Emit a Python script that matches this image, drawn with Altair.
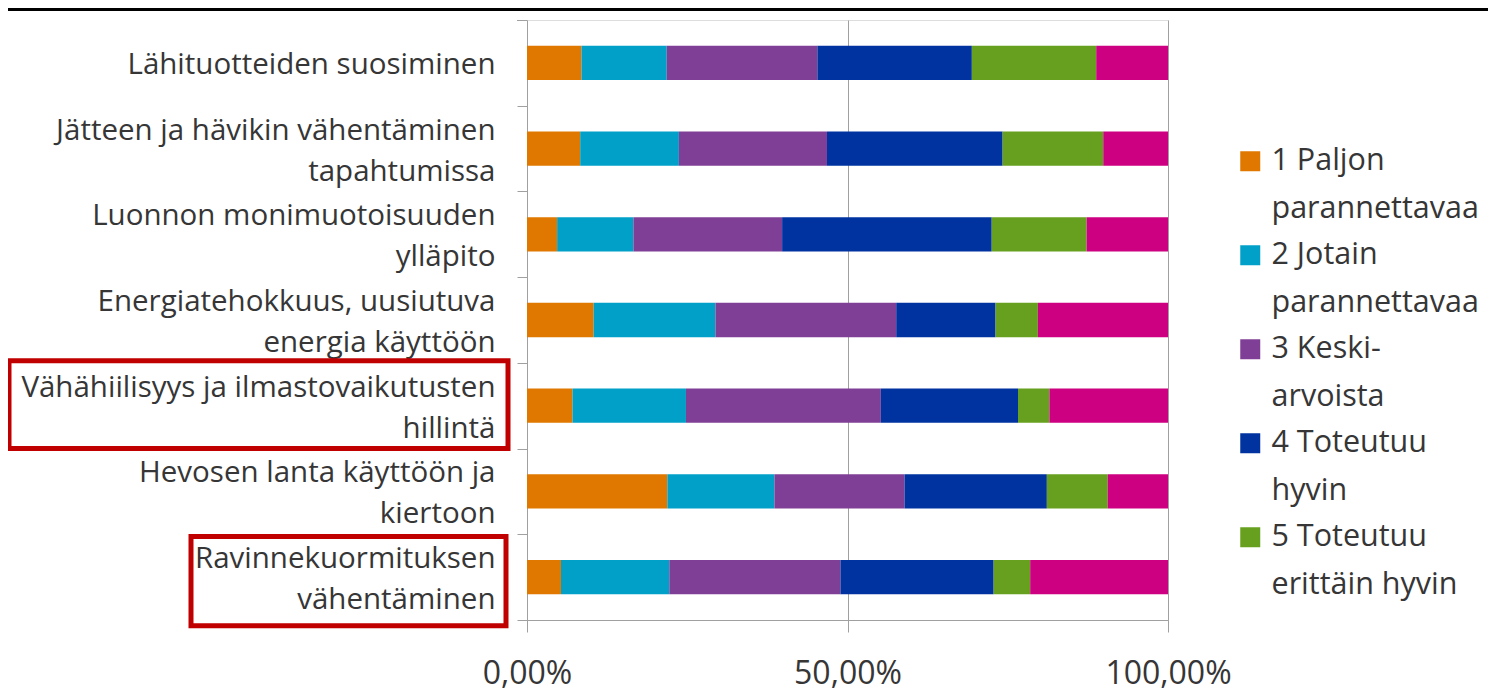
import altair as alt
import pandas as pd

categories = [
    "Lähituotteiden suosiminen",
    "Jätteen ja hävikin vähentäminen\ntapahtumissa",
    "Luonnon monimuotoisuuden\nylläpito",
    "Energiatehokkuus, uusiutuva\nenergia käyttöön",
    "Vähähiilisyys ja ilmastovaikutusten\nhillintä",
    "Hevosen lanta käyttöön ja\nkiertoon",
    "Ravinnekuormituksen\nvähentäminen",
]

series = [
    "1 Paljon\nparannettavaa",
    "2 Jotain\nparannettavaa",
    "3 Keski-\narvoista",
    "4 Toteutuu\nhyvin",
    "5 Toteutuu\nerittäin hyvin",
    "6 En osaa sanoa",
]

colors = ["#E07800", "#00A0C8", "#803F96", "#0033A0", "#66A01E", "#CC0080"]

s1 = [8.5, 8.3, 4.7, 10.4, 7.1, 21.9, 5.3]
s2 = [13.3, 15.4, 11.9, 19.0, 17.7, 16.7, 16.9]
s3 = [23.5, 23.1, 23.2, 28.2, 30.4, 20.3, 26.7]
s4 = [24.1, 27.4, 32.7, 15.5, 21.4, 22.2, 23.9]
s5 = [19.4, 15.7, 14.8, 6.6, 4.9, 9.5, 5.7]
s6 = [11.2, 10.1, 12.7, 20.3, 18.5, 9.4, 21.5]

x_ticks = [0, 0.5, 1]
highlighted_a = [categories[4]]
highlighted_b = [categories[6]]

rows = []
for si, vals in enumerate([s1, s2, s3, s4, s5, s6]):
    for ci, v in enumerate(vals):
        rows.append({"cat": categories[ci], "series": series[si], "idx": si, "value": v})
df = pd.DataFrame(rows)

FONT = "Open Sans"
TEXT = "#363636"
GRID = "#A0A0A0"
W, H = 641, 600
half_step = H / len(categories) / 2
LINE_H = 41

y_enc = alt.Y(
    "cat:N",
    sort=categories,
    scale=alt.Scale(paddingInner=0.6, paddingOuter=0.3),
    axis=alt.Axis(
        title=None,
        labelExpr="split(datum.label, '\\n')",
        labelFontSize=29.5,
        labelLineHeight=LINE_H,
        labelColor=TEXT,
        labelFont=FONT,
        labelPadding=22,
        labelLimit=600,
        tickOffset=half_step,
        labelOffset={
            "condition": {
                "test": "indexof(datum.value, '\\n') >= 0",
                "value": -half_step - LINE_H / 2 + 2,
            },
            "value": -half_step + 2,
        },
        tickSize=10,
        tickColor=GRID,
        domainColor=GRID,
        grid=False,
        labelAlign="right",
    ),
)

bars = alt.Chart(df).mark_bar().encode(
    y=y_enc,
    x=alt.X(
        "value:Q",
        stack="normalize",
        scale=alt.Scale(domain=[0, 1]),
        axis=alt.Axis(
            title=None,
            values=x_ticks,
            labelExpr="replace(format(datum.value, '.2%'), '.', ',')",
            labelFontSize=32,
            labelColor=TEXT,
            labelFont=FONT,
            labelPadding=26,
            tickSize=12,
            tickColor=GRID,
            domainColor=GRID,
            grid=True,
            gridColor=GRID,
            gridWidth=1,
            labelFlush=False,
        ),
    ),
    color=alt.Color(
        "series:N",
        scale=alt.Scale(domain=series, range=colors),
        legend=alt.Legend(
            title=None,
            values=series[:5],
            orient="none",
            legendX=708,
            legendY=126,
            labelExpr="split(datum.label, '\\n')",
            labelFontSize=30.5,
            labelFont=FONT,
            labelColor=TEXT,
            labelLimit=400,
            symbolType="square",
            symbolSize=400,
            symbolStrokeWidth=0,
            symbolOpacity=1,
            labelOffset=6,
            rowPadding=15,
            padding=0,
        ),
    ),
    order=alt.Order("idx:Q"),
)

box_a = alt.Chart(pd.DataFrame({"cat": highlighted_a})).mark_rect(
    filled=False, stroke="#C00000", strokeWidth=5, height={"band": 2.56}, yOffset=-1
).encode(y=alt.Y("cat:N", sort=categories), x=alt.value(-518), x2=alt.value(-19))

box_b = alt.Chart(pd.DataFrame({"cat": highlighted_b})).mark_rect(
    filled=False, stroke="#C00000", strokeWidth=5, height={"band": 2.6}, yOffset=4
).encode(y=alt.Y("cat:N", sort=categories), x=alt.value(-336), x2=alt.value(-21))

top_tick = alt.Chart(pd.DataFrame({"a": [0]})).mark_rule(
    color=GRID, strokeWidth=1
).encode(x=alt.value(-10), x2=alt.value(0), y=alt.value(0.5))

top_line = alt.Chart(pd.DataFrame({"a": [0]})).mark_rule(
    color="#000000", strokeWidth=3
).encode(x=alt.value(-519), x2=alt.value(W + 320), y=alt.value(-10.5))

chart = (
    alt.layer(bars, box_a, box_b, top_tick, top_line)
    .properties(
        width=W,
        height=H,
        autosize=alt.AutoSizeParams(type="none"),
        padding={"left": 519, "top": 12, "right": 320, "bottom": 72},
    )
    .configure_view(stroke=None)
    .configure(font=FONT, style={"guide-label": {"lineHeight": 48}})
)

chart.save("out.html", embed_options={"renderer": "svg", "actions": False})
